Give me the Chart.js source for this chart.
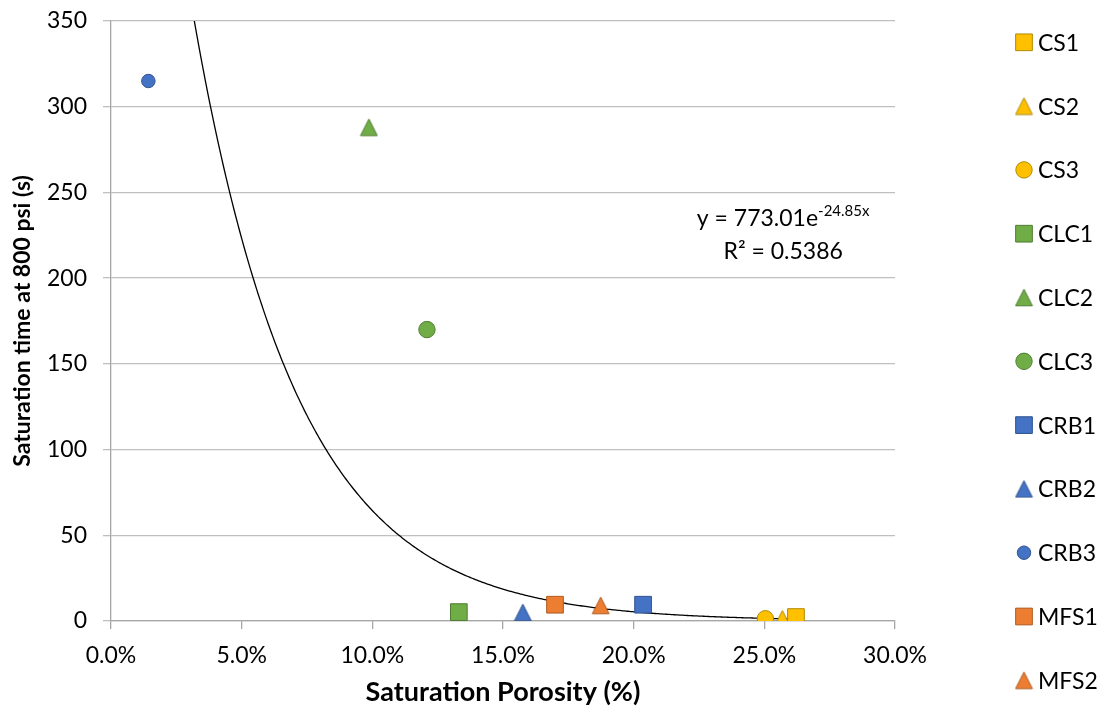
<!DOCTYPE html>
<html><head><meta charset="utf-8">
<script src="https://cdn.jsdelivr.net/npm/chart.js@4.4.0/dist/chart.umd.min.js"></script>
<style>html,body{margin:0;padding:0;background:#fff;}#wrap{width:1105px;height:716px;}</style>
</head><body><div id="wrap"><canvas id="c" width="1105" height="716"></canvas></div>
<script>
// ---- data ----
const sampleNames    = ['CS1','CS2','CS3','CLC1','CLC2','CLC3','CRB1','CRB2','CRB3','MFS1','MFS2'];
const porosityPct    = [26.21, 25.69, 25.04, 13.31, 9.87, 12.09, 20.36, 15.76, 1.43, 16.99, 18.74];
const saturationTime = [2.3, 1.3, 1.3, 5.2, 288, 170, 9.5, 5.0, 315, 9.5, 9.1];
const markerShapes   = ['rect','triangle','circle','rect','triangle','circle','rect','triangle','circle','rect','triangle'];
const markerFills    = ['#FFC000','#FFC000','#FFC000','#70AD47','#70AD47','#70AD47','#4472C4','#4472C4','#4472C4','#ED7D31','#ED7D31'];
const markerBorders  = ['#B08A00','#B08A00','#B08A00','#4E7D31','#4E7D31','#4E7D31','#2F528F','#2F528F','#2F528F','#AE5A21','#AE5A21'];
const markerScale    = [1,1,1,1,1,1,1,1,0.82,1,1];
// exponential trendline reported on the chart: y = a * e^(b x), x as fraction
const trendA = 773.01;
const trendB = -24.85;
const rSquared = 0.5386;
const xTickStep = 5, xMin = 0, xMax = 30;
const yTickStep = 50, yMin = 0, yMax = 350;

const FONT = 'Lato';
const TXT = '#000000';

function makeTriangle(fill, stroke, s) {
  const c = document.createElement('canvas');
  const w = Math.round(19 * s), h = Math.round(19 * s);
  c.width = w; c.height = h;
  const g = c.getContext('2d');
  const hw = 8.4 * s, hh = 8.3 * s;
  g.beginPath();
  g.moveTo(w / 2, h / 2 - hh);
  g.lineTo(w / 2 + hw, h / 2 + hh);
  g.lineTo(w / 2 - hw, h / 2 + hh);
  g.closePath();
  g.fillStyle = fill; g.fill();
  g.lineWidth = 1; g.strokeStyle = stroke; g.stroke();
  return c;
}

function styleFor(i) {
  const s = markerScale[i];
  if (markerShapes[i] === 'triangle') return { pointStyle: makeTriangle(markerFills[i], markerBorders[i], s), radius: 9 * s };
  if (markerShapes[i] === 'rect') return { pointStyle: 'rect', radius: 11.8 * s };
  return { pointStyle: 'circle', radius: 8.2 * s };
}
const styles = sampleNames.map((_, i) => styleFor(i));

// trendline samples between the min and max porosity of the data
const tMin = Math.min(...porosityPct), tMax = Math.max(...porosityPct);
const trendPts = [];
for (let k = 0; k <= 400; k++) {
  const x = tMin + (tMax - tMin) * k / 400;
  trendPts.push({ x: x, y: trendA * Math.exp(trendB * x / 100) });
}

const datasets = sampleNames.map((n, i) => ({
  label: n,
  data: [{ x: porosityPct[i], y: saturationTime[i] }],
  pointStyle: styles[i].pointStyle,
  pointRadius: styles[i].radius,
  pointHoverRadius: styles[i].radius,
  backgroundColor: markerFills[i],
  borderColor: markerBorders[i],
  pointBorderWidth: 1,
  showLine: false,
  order: 1
}));
datasets.push({
  label: 'Expon.',
  data: trendPts,
  showLine: true,
  borderColor: '#000000',
  borderWidth: 1.3,
  pointRadius: 0,
  fill: false,
  tension: 0,
  order: 2
});

const sideLegend = {
  id: 'sideLegend',
  afterDraw(chart) {
    const ctx = chart.ctx;
    const mx = chart.width - 81, tx = chart.width - 67;
    const y0 = 42.3, step = 63.8;
    ctx.save();
    sampleNames.forEach((n, i) => {
      const y = y0 + i * step;
      ctx.fillStyle = markerFills[i];
      ctx.strokeStyle = markerBorders[i];
      ctx.lineWidth = 1;
      Chart.helpers.drawPoint(ctx, { pointStyle: styles[i].pointStyle, radius: styles[i].radius, rotation: 0, borderWidth: 1 }, mx, y);
      ctx.fillStyle = TXT;
      ctx.font = '23px ' + FONT;
      ctx.textAlign = 'left';
      ctx.textBaseline = 'middle';
      ctx.fillText(n, tx, y + 1);
    });
    ctx.restore();
  }
};

const equationLabel = {
  id: 'equationLabel',
  afterDatasetsDraw(chart) {
    const ctx = chart.ctx;
    const xs = chart.scales.x, ys = chart.scales.y;
    const cx = xs.getPixelForValue(25.72);
    const b1 = ys.getPixelForValue(230.3);
    const b2 = ys.getPixelForValue(211.0);
    ctx.save();
    ctx.fillStyle = TXT;
    ctx.textBaseline = 'alphabetic';
    ctx.textAlign = 'left';
    const main = 'y = ' + trendA.toFixed(2) + 'e';
    const sup = trendB.toFixed(2) + 'x';
    ctx.font = '23px ' + FONT;
    const wMain = ctx.measureText(main).width;
    ctx.font = '15px ' + FONT;
    const wSup = ctx.measureText(sup).width;
    const left = cx - (wMain + wSup) / 2;
    ctx.font = '23px ' + FONT;
    ctx.fillText(main, left, b1);
    ctx.font = '15px ' + FONT;
    ctx.fillText(sup, left + wMain, b1 - 10);
    ctx.font = '23px ' + FONT;
    ctx.textAlign = 'center';
    ctx.fillText('R\u00B2 = ' + rSquared.toFixed(4), cx, b2);
    ctx.restore();
  }
};

const AXIS = '#A6A6A6', GRID = '#BFBFBF';

new Chart(document.getElementById('c'), {
  type: 'scatter',
  data: { datasets: datasets },
  plugins: [sideLegend, equationLabel],
  options: {
    responsive: false,
    animation: false,
    events: [],
    layout: { padding: { top: 21, right: 210, left: 0, bottom: 0 } },
    plugins: { legend: { display: false }, tooltip: { enabled: false } },
    scales: {
      x: {
        type: 'linear', min: xMin, max: xMax,
        afterFit(s) { s.height = 95; },
        ticks: { stepSize: xTickStep, padding: 13, color: TXT, font: { family: FONT, size: 23 },
                 callback: v => Number(v).toFixed(1) + '%' },
        grid: { display: true, drawOnChartArea: false, drawTicks: true, tickLength: 8, color: AXIS, lineWidth: 1.3 },
        border: { display: true, color: AXIS, width: 1.3 },
        title: { display: true, text: 'Saturation Porosity (%)', color: TXT,
                 font: { family: FONT, size: 27, weight: 'bold', lineHeight: 1.2 }, padding: { top: 0, bottom: 8 } }
      },
      y: {
        type: 'linear', min: yMin, max: yMax,
        afterFit(s) { s.width = 111; s.paddingTop = 0; s.paddingBottom = 0; },
        ticks: { stepSize: yTickStep, padding: 16, color: TXT, font: { family: FONT, size: 23 } },
        grid: { display: true, drawOnChartArea: true, drawTicks: true, tickLength: 8, color: GRID, lineWidth: 1.3 },
        border: { display: true, color: AXIS, width: 1.3 },
        title: { display: true, text: 'Saturation time at 800 psi (s)', color: TXT,
                 font: { family: FONT, size: 23, weight: 'bold', lineHeight: 1.2 }, padding: { top: 9, bottom: 0 } }
      }
    }
  }
});
</script>
</body></html>
